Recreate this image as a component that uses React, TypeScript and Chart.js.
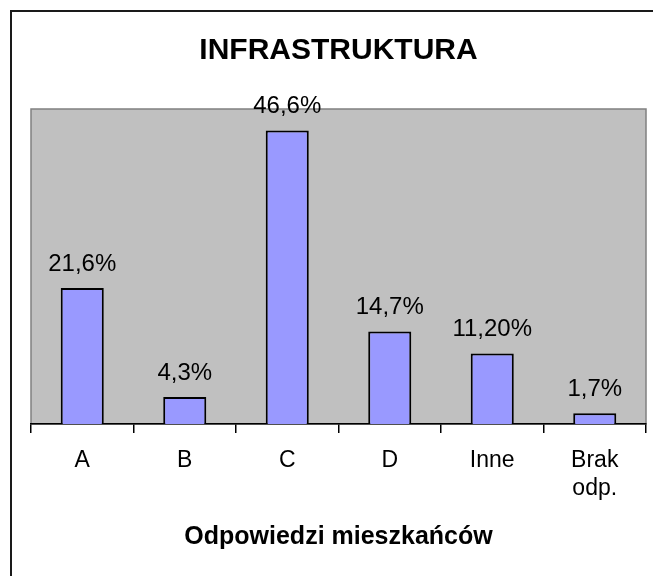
import React, { useEffect, useRef } from "react";
import { Chart, registerables } from "chart.js";

Chart.register(...registerables);

const categories: (string | string[])[] = ["A", "B", "C", "D", "Inne", ["Brak", "odp."]];
const values: number[] = [21.6, 4.3, 46.6, 14.7, 11.2, 1.7];
const valueLabels: string[] = ["21,6%", "4,3%", "46,6%", "14,7%", "11,20%", "1,7%"];
const chartTitle = "INFRASTRUKTURA";
const axisTitle = "Odpowiedzi mieszkańców";

const FONT = "'Liberation Sans', Arial, Helvetica, sans-serif";

const framePlugin = {
  id: "framePlugin",
  beforeDraw(chart: any) {
    const { ctx, chartArea, width, height } = chart;
    ctx.save();
    ctx.fillStyle = "#ffffff";
    ctx.fillRect(0, 0, width, height);
    ctx.strokeStyle = "#1a1a1a";
    ctx.lineWidth = 2;
    ctx.strokeRect(11, 11, width + 40, height + 40);
    ctx.fillStyle = "#C0C0C0";
    ctx.fillRect(chartArea.left, chartArea.top, chartArea.right - chartArea.left, chartArea.bottom - chartArea.top);
    ctx.strokeStyle = "#808080";
    ctx.lineWidth = 1.5;
    ctx.strokeRect(chartArea.left, chartArea.top, chartArea.right - chartArea.left, chartArea.bottom - chartArea.top);
    ctx.restore();
  },
};

const valueLabelPlugin = {
  id: "valueLabelPlugin",
  afterDatasetsDraw(chart: any) {
    const { ctx } = chart;
    const meta = chart.getDatasetMeta(0);
    ctx.save();
    ctx.fillStyle = "#000000";
    ctx.font = `24px ${FONT}`;
    ctx.textAlign = "center";
    ctx.textBaseline = "alphabetic";
    meta.data.forEach((bar: any, i: number) => {
      ctx.fillText(valueLabels[i], bar.x, bar.y - 17);
    });
    ctx.restore();
  },
};

export default function App() {
  const ref = useRef<HTMLCanvasElement | null>(null);
  useEffect(() => {
    document.body.style.margin = "0";
    if (!ref.current) return;
    const chart = new Chart(ref.current, {
      type: "bar",
      data: {
        labels: categories,
        datasets: [
          {
            data: values,
            backgroundColor: "#9999FF",
            borderColor: "#000000",
            borderWidth: 2,
            barPercentage: 0.42,
            categoryPercentage: 1,
          },
        ],
      },
      options: {
        responsive: false,
        animation: false,
        layout: { padding: { left: 31, right: 7, top: 0, bottom: 0 } },
        plugins: {
          legend: { display: false },
          tooltip: { enabled: false },
          title: {
            display: true,
            text: chartTitle,
            color: "#000000",
            font: { family: FONT, size: 30, weight: "bold", lineHeight: 1.2 },
            padding: { top: 33, bottom: 40 },
          },
        },
        scales: {
          x: {
            position: "bottom",
            afterFit: (scale: any) => {
              scale.height = 152;
            },
            grid: {
              display: true,
              offset: true,
              drawOnChartArea: false,
              drawTicks: true,
              tickLength: 9,
              color: "#000000",
              lineWidth: 1.5,
            },
            border: { display: true, color: "#000000", width: 1.5 },
            ticks: {
              color: "#000000",
              font: { family: FONT, size: 23, lineHeight: 1.2 },
              padding: 14,
              autoSkip: false,
              maxRotation: 0,
              minRotation: 0,
            },
            title: {
              display: true,
              text: axisTitle,
              color: "#000000",
              font: { family: FONT, size: 25, weight: "bold", lineHeight: 1.2 },
              padding: { top: 0, bottom: 24 },
            },
          },
          y: {
            display: false,
            min: 0,
            max: 50,
          },
        },
      },
      plugins: [framePlugin, valueLabelPlugin],
    });
    return () => chart.destroy();
  }, []);
  return (
    <div style={{ position: "fixed", left: 0, top: 0, width: 653, height: 576 }}>
      <canvas ref={ref} width={653} height={576} style={{ display: "block" }} />
    </div>
  );
}
